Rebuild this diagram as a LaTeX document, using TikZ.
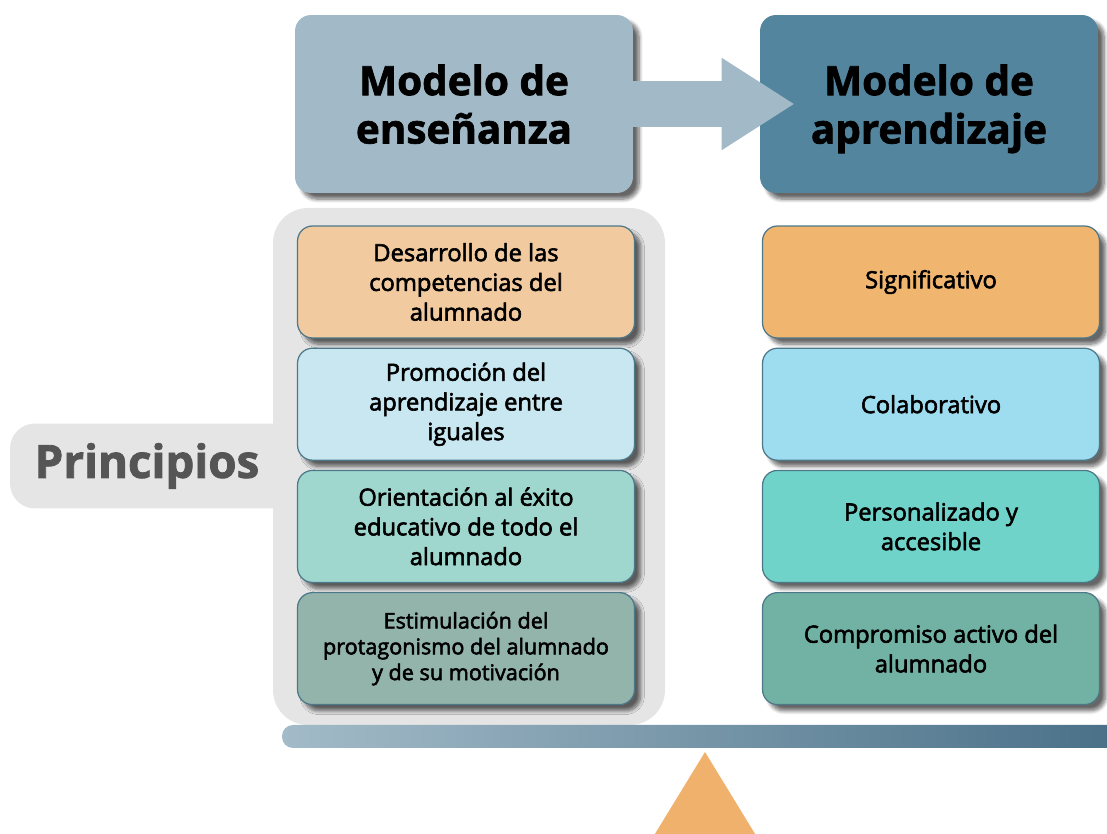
\documentclass[tikz,border=0pt]{standalone}
\usepackage{fontspec}
\setmainfont{Open Sans}
\newfontfamily\heavyfont{Open Sans}[FakeBold=1.8]
\newfontfamily\semifont{Open Sans}[FakeBold=2.5]
\usetikzlibrary{positioning,arrows.meta,shadows.blur}

\definecolor{enscol}{HTML}{A2B9C7}
\definecolor{aprcol}{HTML}{53859E}
\definecolor{panelgray}{HTML}{E5E5E5}
\definecolor{tabtext}{HTML}{555555}
\definecolor{boxline}{HTML}{4D7889}
\definecolor{desacol}{HTML}{F2CA9F}
\definecolor{promcol}{HTML}{C9E7F1}
\definecolor{oriecol}{HTML}{9FD7CF}
\definecolor{estimcol}{HTML}{93B4AB}
\definecolor{signcol}{HTML}{F0B56F}
\definecolor{colabcol}{HTML}{9EDCEF}
\definecolor{perscol}{HTML}{6FD3C9}
\definecolor{compcol}{HTML}{71B2A4}
\definecolor{barleft}{HTML}{A3BBC8}
\definecolor{barright}{HTML}{486F87}
\definecolor{tricol}{HTML}{F0B16C}

\tikzset{
  boxshadow/.style={blur shadow={shadow xshift=3.5pt, shadow yshift=-3.5pt, shadow opacity=60, shadow blur steps=8}},
  titlebox/.style={rounded corners=0.32cm, minimum width=6.76cm, minimum height=3.56cm, text depth=0pt,
    align=center, font=\heavyfont\bfseries\fontsize{23}{27.5}\selectfont, boxshadow},
  itembox/.style={draw=boxline, line width=0.7pt, rounded corners=0.3cm,
    minimum width=6.74cm, minimum height=2.24cm, align=center,
    font=\semifont\fontsize{13.5}{16.9}\selectfont, boxshadow}
}

\begin{document}
\begin{tikzpicture}[x=0.02cm, y=-0.02cm, node distance=0.18cm]
    \useasboundingbox (0,0) rectangle (1107,834);
    \begin{scope}
        \clip (0,0) rectangle (1107,834);
        \fill[panelgray, rounded corners=0.7cm] (273,208) rectangle (665,725);
        \node[fill=panelgray, rounded corners=0.5cm, minimum width=6.2cm, minimum height=1.7cm] (prin) at (165,466) {};
        \node[text=tabtext, font=\heavyfont\bfseries\fontsize{26}{30}\selectfont] (printext) at (147,466) {Principios};

        \node[titlebox, fill=enscol] (ens) at (464,104) {Modelo de\\enseñanza};
        \node[titlebox, fill=aprcol] (apr) at (929,104) {Modelo de\\aprendizaje};
        \draw[enscol, line width=0.92cm, -{Triangle[length=1.46cm, width=1.74cm]}]
            (ens.east) -- ([xshift=0.7cm]apr.west);

        \node[itembox, fill=desacol] (desa) at (466,282) {Desarrollo de las\\competencias del\\alumnado};
        \node[itembox, fill=promcol, below=of desa] (prom) {Promoción del\\aprendizaje entre\\iguales};
        \node[itembox, fill=oriecol, below=of prom] (orie) {Orientación al éxito\\educativo de todo el\\alumnado};
        \node[itembox, fill=estimcol, below=of orie, font=\semifont\fontsize{12.3}{14.7}\selectfont] (estim)
            {Estimulación del\\protagonismo del alumnado\\y de su motivación};

        \node[itembox, fill=signcol] (sign) at (931,282) {Significativo};
        \node[itembox, fill=colabcol, below=of sign] (colab) {Colaborativo};
        \node[itembox, fill=perscol, below=of colab] (pers) {Personalizado y\\accesible};
        \node[itembox, fill=compcol, below=of pers] (comp) {Compromiso activo del\\alumnado};

        \shade[left color=barleft, right color=barright, rounded corners=0.22cm] (282,725) rectangle (1130,748);
        \fill[tricol] (705,752) -- (639,860) -- (771,860) -- cycle;
    \end{scope}
\end{tikzpicture}
\end{document}
